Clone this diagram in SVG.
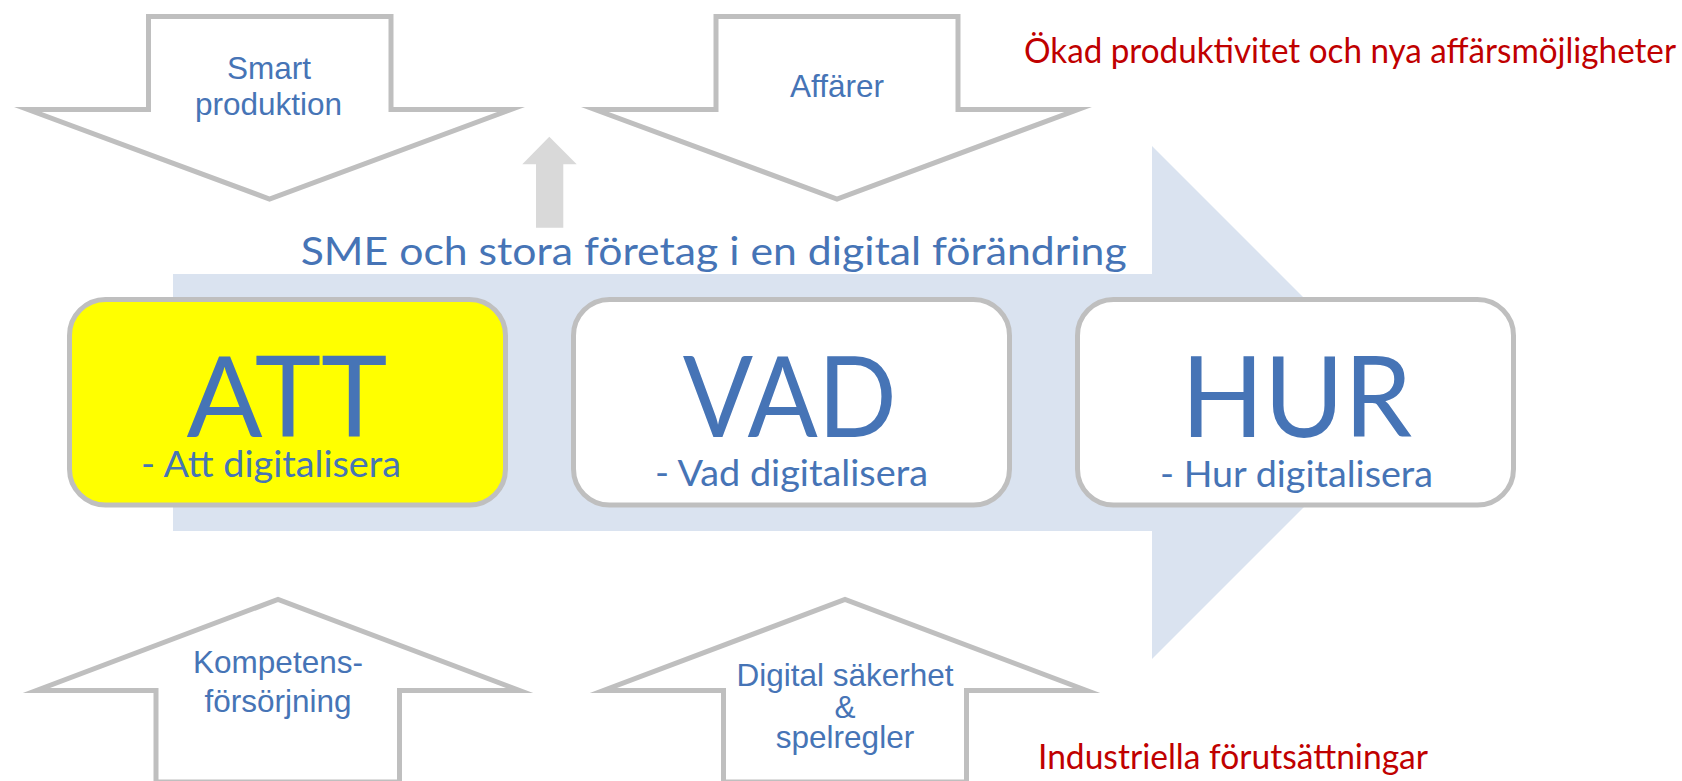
<svg xmlns="http://www.w3.org/2000/svg" width="1682" height="781" viewBox="0 0 1682 781">
<style>
.outline{fill:#ffffff;stroke:#bfbfbf;stroke-width:5;stroke-miterlimit:10;stroke-linejoin:miter}
.box{stroke:#bfbfbf;stroke-width:5}
.lbl{font-family:"Liberation Sans",Arial,sans-serif;font-size:31.5px;fill:#4674b6;text-anchor:middle}
.cal{font-family:Lato,"Noto Sans",sans-serif;fill:#4674b6}
.big{font-size:112px;text-anchor:middle}
.sub{font-size:37px}
.red{font-family:Lato,"Noto Sans",sans-serif;font-size:34px;fill:#c00000}
</style>
<rect width="1682" height="781" fill="#ffffff"/>
<g id="process-arrow">
<polygon points="173,274 1152,274 1152,146 1408.5,402.5 1152,659 1152,531 173,531" fill="#dae3f0"/>
</g>
<g id="title">
<text class="cal" x="300.7" y="265" font-size="39" textLength="826" lengthAdjust="spacingAndGlyphs">SME och stora företag i en digital förändring</text>
</g>
<g id="box-att">
<rect class="box" x="69.5" y="299.5" width="436" height="205.5" rx="36" fill="#ffff00"/>
<text class="cal big" x="287" y="436.7" textLength="201" lengthAdjust="spacingAndGlyphs">ATT</text>
<text class="cal sub" x="141" y="476.7" textLength="260" lengthAdjust="spacingAndGlyphs">- Att digitalisera</text>
</g>
<g id="box-vad">
<rect class="box" x="573.5" y="299.5" width="436" height="205.5" rx="36" fill="#ffffff"/>
<text class="cal big" x="789.7" y="436.7" textLength="214" lengthAdjust="spacingAndGlyphs">VAD</text>
<text class="cal sub" x="655" y="486" textLength="273" lengthAdjust="spacingAndGlyphs">- Vad digitalisera</text>
</g>
<g id="box-hur">
<rect class="box" x="1077.5" y="299.5" width="436" height="205.5" rx="36" fill="#ffffff"/>
<text class="cal big" x="1296.5" y="436.7" textLength="231" lengthAdjust="spacingAndGlyphs">HUR</text>
<text class="cal sub" x="1160" y="486.5" textLength="273" lengthAdjust="spacingAndGlyphs">- Hur digitalisera</text>
</g>
<g id="arrow-smart-produktion">
<polygon class="outline" points="148.5,16.5 391,16.5 391,109.5 511,109.5 269.5,199 28,109.5 148.5,109.5"/>
<text class="lbl" x="269" y="79">Smart</text>
<text class="lbl" x="268.5" y="115">produktion</text>
</g>
<g id="arrow-affarer">
<polygon class="outline" points="716,16.5 958,16.5 958,109.5 1078,109.5 837,199 595,109.5 716,109.5"/>
<text class="lbl" x="837" y="97.3">Affärer</text>
</g>
<g id="arrow-kompetens">
<polygon class="outline" points="156,782 156,690.5 36.5,690.5 278,599.4 519.5,690.5 399.5,690.5 399.5,782"/>
<text class="lbl" x="278" y="673">Kompetens-</text>
<text class="lbl" x="278" y="711.7">försörjning</text>
</g>
<g id="arrow-digital-sakerhet">
<polygon class="outline" points="723.5,782 723.5,690.5 603.5,690.5 845,599.5 1086.5,690.5 966.5,690.5 966.5,782"/>
<text class="lbl" x="845" y="686">Digital säkerhet</text>
<text class="lbl" x="845" y="718">&amp;</text>
<text class="lbl" x="845" y="748">spelregler</text>
</g>
<g id="label-okad">
<text class="red" x="1024" y="63.3" textLength="652" lengthAdjust="spacingAndGlyphs">Ökad produktivitet och nya affärsmöjligheter</text>
</g>
<g id="label-industriella">
<text class="red" x="1038" y="769" textLength="390" lengthAdjust="spacingAndGlyphs">Industriella förutsättningar</text>
</g>
<g id="connectors">
<polygon points="549.3,136.7 576.7,164.3 563.3,164.3 563.3,227.7 536,227.7 536,164.3 522.3,164.3" fill="#d9d9d9"/>
</g>
</svg>
